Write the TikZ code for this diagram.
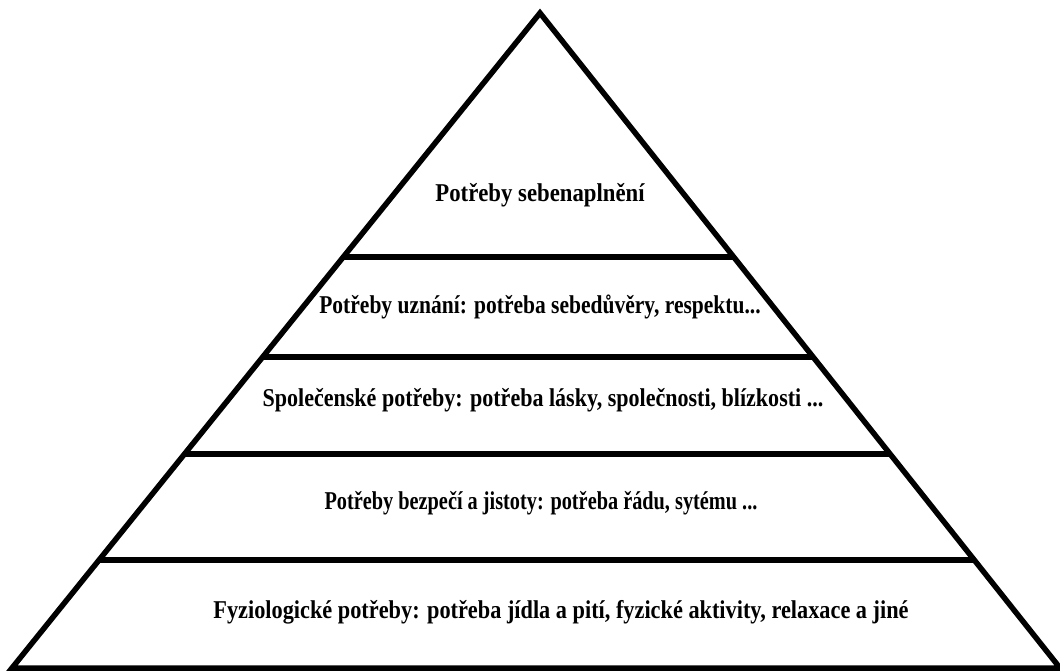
\documentclass[tikz,border=0pt]{standalone}
\usepackage{fontspec}
\setmainfont{Liberation Serif}
\usetikzlibrary{calc}
\begin{document}
\begin{tikzpicture}[x=1pt,y=-1pt,
  edge/.style={line width=5.5pt,black},
  band/.style={line width=5.5pt,black},
  lbl/.style={font=\bfseries\fontsize{22.3}{26}\selectfont,inner sep=0pt,yscale=1.15,transform shape}]
\useasboundingbox (0,0) rectangle (1060,671);
\coordinate (apex) at (540,13);
\coordinate (bl) at (12,668);
\coordinate (br) at (1060,668);
\draw[edge,line join=miter] (bl) -- (apex) -- (br) -- cycle;
\foreach \t/\n in {0.3725/a,0.5252/b,0.6733/c,0.8351/d}{
  \coordinate (L\n) at ($(apex)!\t!(bl)$);
  \coordinate (R\n) at ($(apex)!\t!(br)$);
  \draw[band] (L\n) -- (R\n);
}
\node[lbl,xscale=1.02] (t1) at (540,195) {Potřeby sebenaplnění};
\node[lbl,xscale=0.965] (t2) at (540,307) {Potřeby uznání: potřeba sebedůvěry, respektu...};
\node[lbl,xscale=0.988] (t3) at (543,400) {Společenské potřeby: potřeba lásky, společnosti, blízkosti ...};
\node[lbl,xscale=0.91] (t4) at (541,503) {Potřeby bezpečí a jistoty: potřeba řádu, sytému ...};
\node[lbl] (t5) at (561,612) {Fyziologické potřeby: potřeba jídla a pití, fyzické aktivity, relaxace a jiné};
\end{tikzpicture}
\end{document}
